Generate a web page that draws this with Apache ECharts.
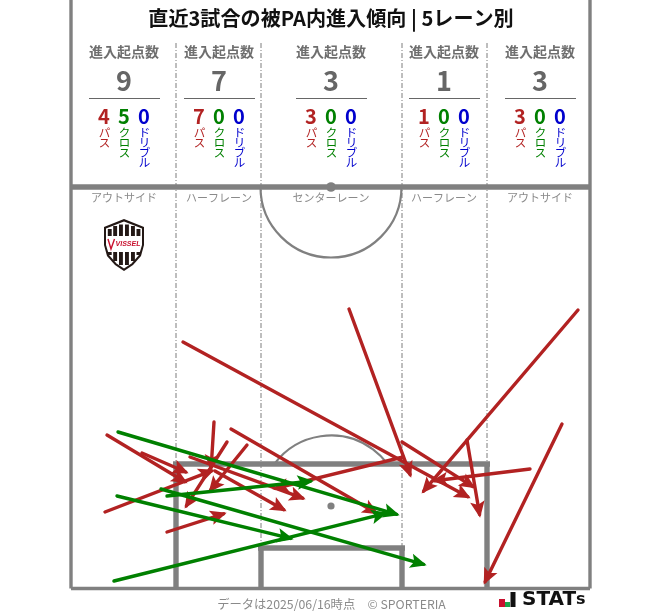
<!DOCTYPE html>
<html><head><meta charset="utf-8">
<style>html,body{margin:0;padding:0;background:#fff}#c{width:663px;height:611px}</style>
<script src="https://cdn.jsdelivr.net/npm/echarts@6/dist/echarts.min.js"></script>
</head><body><div id="c"></div>
<script>
const titleText = '直近3試合の被PA内進入傾向 | 5レーン別';
const footerText = 'データは2025/06/16時点　© SPORTERIA';
const laneNames = ['アウトサイド','ハーフレーン','センターレーン','ハーフレーン','アウトサイド'];
const laneCounts = [9,7,3,1,3];
const passCounts = [4,7,3,1,3];
const crossCounts = [5,0,0,0,0];
const dribbleCounts = [0,0,0,0,0];
// [fromX, fromY, toX, toY] in pitch units (x from left touchline, y from goal line)
const passArrows = [
 [112,246,399,90],[278,279,340,111],[507,278,351,95],[331,146,404,100],[396,148,409,71],
 [459,119,361,107],[491,164,413,4],[160,159,307,74],[332,131,202,99],[36,153,116,105],
 [71,135,117,115],[34,76,143,118],[96,56,155,75],[143,166,140,118],[156,146,114,80],
 [176,143,138,96],[119,131,234,89],[144,117,215,77]
];
const crossArrows = [
 [47,156,328,73],[46,92,222,49],[43,7,316,75],[90,99,355,23],[96,92,242,107]
];
const pitchW = 519, pitchTop = 588, halfway = 401, paTop = 124, paL = 105, paR = 416, sixTop = 40, sixL = 190, sixR = 331, midX = 260, spotY = 82, circleR = 70.5;
const laneLines = [paL, sixL, sixR, paR];
const laneCenters = [53,148,260,373,469];

const GREY='#808080', RED='#b22222', GREEN='#008000', BLUE='#0000cd';
const FONT='"Noto Sans CJK JP","Noto Sans",sans-serif';

const thickLines = [
 [0,halfway,pitchW,halfway],[paL-3,paTop,paR+3,paTop],[paL,0,paL,paTop],[paR,0,paR,paTop],
 [sixL-3,sixTop,sixR+3,sixTop],[sixL,0,sixL,sixTop],[sixR,0,sixR,sixTop]
];
const borderLines = [[0,-0.5,0,pitchTop],[pitchW,-0.5,pitchW,pitchTop],[0,-0.5,pitchW,-0.5]];

function segSeries(data,width,z,dash){
  return {type:'custom',silent:true,animation:false,clip:false,z:z,data:data,
    renderItem(p,api){
      const a=api.coord([api.value(0),api.value(1)]),b=api.coord([api.value(2),api.value(3)]);
      return {type:'line',shape:{x1:a[0],y1:a[1],x2:b[0],y2:b[1]},
        style:{stroke:dash?'#7d7d7d':GREY,lineWidth:width,lineDash:dash||null,fill:null}};
    }};
}
function arrowSeries(data,color,z){
  return {type:'custom',silent:true,animation:false,clip:false,z:z,data:data,
    renderItem(p,api){
      const a=api.coord([api.value(0),api.value(1)]),b=api.coord([api.value(2),api.value(3)]);
      const ang=Math.atan2(b[1]-a[1],b[0]-a[0]),L=11.5,S=0.42;
      const tx=b[0]-2.5*Math.cos(ang),ty=b[1]-2.5*Math.sin(ang);
      const c1=[tx-L*Math.cos(ang-S),ty-L*Math.sin(ang-S)],c2=[tx-L*Math.cos(ang+S),ty-L*Math.sin(ang+S)];
      const n=[tx-L*0.72*Math.cos(ang),ty-L*0.72*Math.sin(ang)];
      return {type:'group',children:[
        {type:'line',shape:{x1:a[0],y1:a[1],x2:tx,y2:ty},style:{stroke:color,lineWidth:3.4,lineCap:'round',fill:null}},
        {type:'polygon',shape:{points:[c1,[tx,ty],c2,n]},style:{stroke:color,lineWidth:2.6,fill:color,lineJoin:'miter'}}
      ]};
    }};
}
function arcSeries(){
  return {type:'custom',silent:true,animation:false,clip:false,z:3,data:[[midX,halfway,0],[midX,spotY,1]],
    renderItem(p,api){
      const c=api.coord([api.value(0),api.value(1)]),q=api.coord([api.value(0)+circleR,api.value(1)]);
      const r=q[0]-c[0],top=api.value(2)===1;
      let sa=0,ea=Math.PI;
      if(top){const h=Math.acos((paTop-spotY)/circleR);sa=-Math.PI/2-h;ea=-Math.PI/2+h;}
      return {type:'group',children:[
        {type:'arc',shape:{cx:c[0],cy:c[1],r:r,startAngle:sa,endAngle:ea},style:{stroke:GREY,lineWidth:2.2,fill:null}},
        {type:'circle',shape:{cx:c[0],cy:c[1],r:top?3.6:4.8},style:{fill:GREY}}
      ]};
    }};
}

const txt=(x,y,text,size,fill,weight,extra)=>Object.assign({type:'text',x:x,y:y,silent:true,z:20,
  style:Object.assign({text:text,fill:fill,font:(weight||'normal')+' '+size+'px '+FONT,textAlign:'center',textVerticalAlign:'middle'},extra||{})});
const OX=71;
const graphics=[];
graphics.push(txt(331,18,titleText,20.1,'#111','bold'));
graphics.push(txt(331.5,604,footerText,12.3,'#8a8a8a','normal'));
laneCenters.forEach((c,i)=>{
  const x=c+OX;
  graphics.push(txt(x,52,'進入起点数',14,'#6e6e6e','bold'));
  graphics.push(txt(x,81,String(laneCounts[i]),27,'#666','bold'));
  graphics.push({type:'line',silent:true,z:20,shape:{x1:x-35,y1:98.5,x2:x+36,y2:98.5},style:{stroke:'#666',lineWidth:1}});
  [[passCounts,'パ\nス',RED],[crossCounts,'ク\nロ\nス',GREEN],[dribbleCounts,'ド\nリ\nブ\nル',BLUE]].forEach((k,j)=>{
    const kx=x+(j-1)*20;
    graphics.push(txt(kx,116,String(k[0][i]),20,k[2],'bold'));
    graphics.push({type:'text',x:kx+0.5,y:128,silent:true,z:20,style:{text:k[1],fill:k[2],font:'11.5px '+FONT,textAlign:'center',textVerticalAlign:'top',lineHeight:10}});
  });
  graphics.push(txt(x,198,laneNames[i],11,'#8a8a8a','normal'));
});
// club crest
const crest=[
 {type:'polygon',shape:{points:[[124,219],[144,227],[144,245],[141,256],[133,265],[124,271],[115,265],[107,256],[104,245],[104,227]]},style:{fill:'#231815'}},
 {type:'polygon',shape:{points:[[124,221.5],[142,228.5],[142,245],[139,255],[131.5,263.5],[124,268.5],[116.5,263.5],[109,255],[106,245],[106,228.5]]},style:{fill:'#fff'}}
];
[[107.8,229,236,252,255],[113.2,226,236,252,261],[119,224.5,236,252,265],[125,224.5,236,252,265],[131,226,236,252,261],[136.5,229,236,252,255]].forEach(s=>{
  crest.push({type:'rect',shape:{x:s[0],y:s[1],width:3.9,height:s[2]-s[1]},style:{fill:'#231815'}});
  crest.push({type:'rect',shape:{x:s[0],y:s[3],width:3.9,height:s[4]-s[3]},style:{fill:'#231815'}});
});
crest.push({type:'polyline',shape:{points:[[108,239],[111,249],[114.5,239]]},style:{stroke:'#c8102e',lineWidth:1.4,fill:null}});
crest.push({type:'text',x:128,y:244,style:{text:'VISSEL',fill:'#c8102e',font:'italic bold 7px "Liberation Sans"',textAlign:'center',textVerticalAlign:'middle'}});
crest.forEach(e=>{e.silent=true;e.z=20;graphics.push(e);});
// STATS logo
[[499,599,6,8,'#c8102e'],[505,602,5,5,'#1aa34a'],[510.5,592,5,15,'#111']].forEach(r=>{
  graphics.push({type:'rect',silent:true,z:20,shape:{x:r[0],y:r[1],width:r[2],height:r[3]},style:{fill:r[4]}});
});
graphics.push({type:'text',x:522,y:600,silent:true,z:20,style:{text:'{a|STAT}{b|s}',textVerticalAlign:'middle',textAlign:'left',
  rich:{a:{font:'bold 20px "DejaVu Sans"',fill:'#111'},b:{font:'bold 16px "DejaVu Sans"',fill:'#111'}}}});

const chart=echarts.init(document.getElementById('c'),null,{renderer:'canvas'});
chart.setOption({
  animation:false,
  backgroundColor:'#fff',
  grid:{left:71,top:0,width:519,height:588,containLabel:false},
  xAxis:{type:'value',min:0,max:pitchW,show:false},
  yAxis:{type:'value',min:0,max:pitchTop,show:false},
  graphic:{elements:graphics},
  series:[
    segSeries(laneLines.map(x=>[x,0,x,pitchTop-42]),1,2,[5,2,1,2]),
    segSeries(borderLines,3.4,4),
    segSeries(thickLines,5.4,4),
    arcSeries(),
    arrowSeries(passArrows,RED,6),
    arrowSeries(crossArrows,GREEN,7)
  ]
});
</script></body></html>
